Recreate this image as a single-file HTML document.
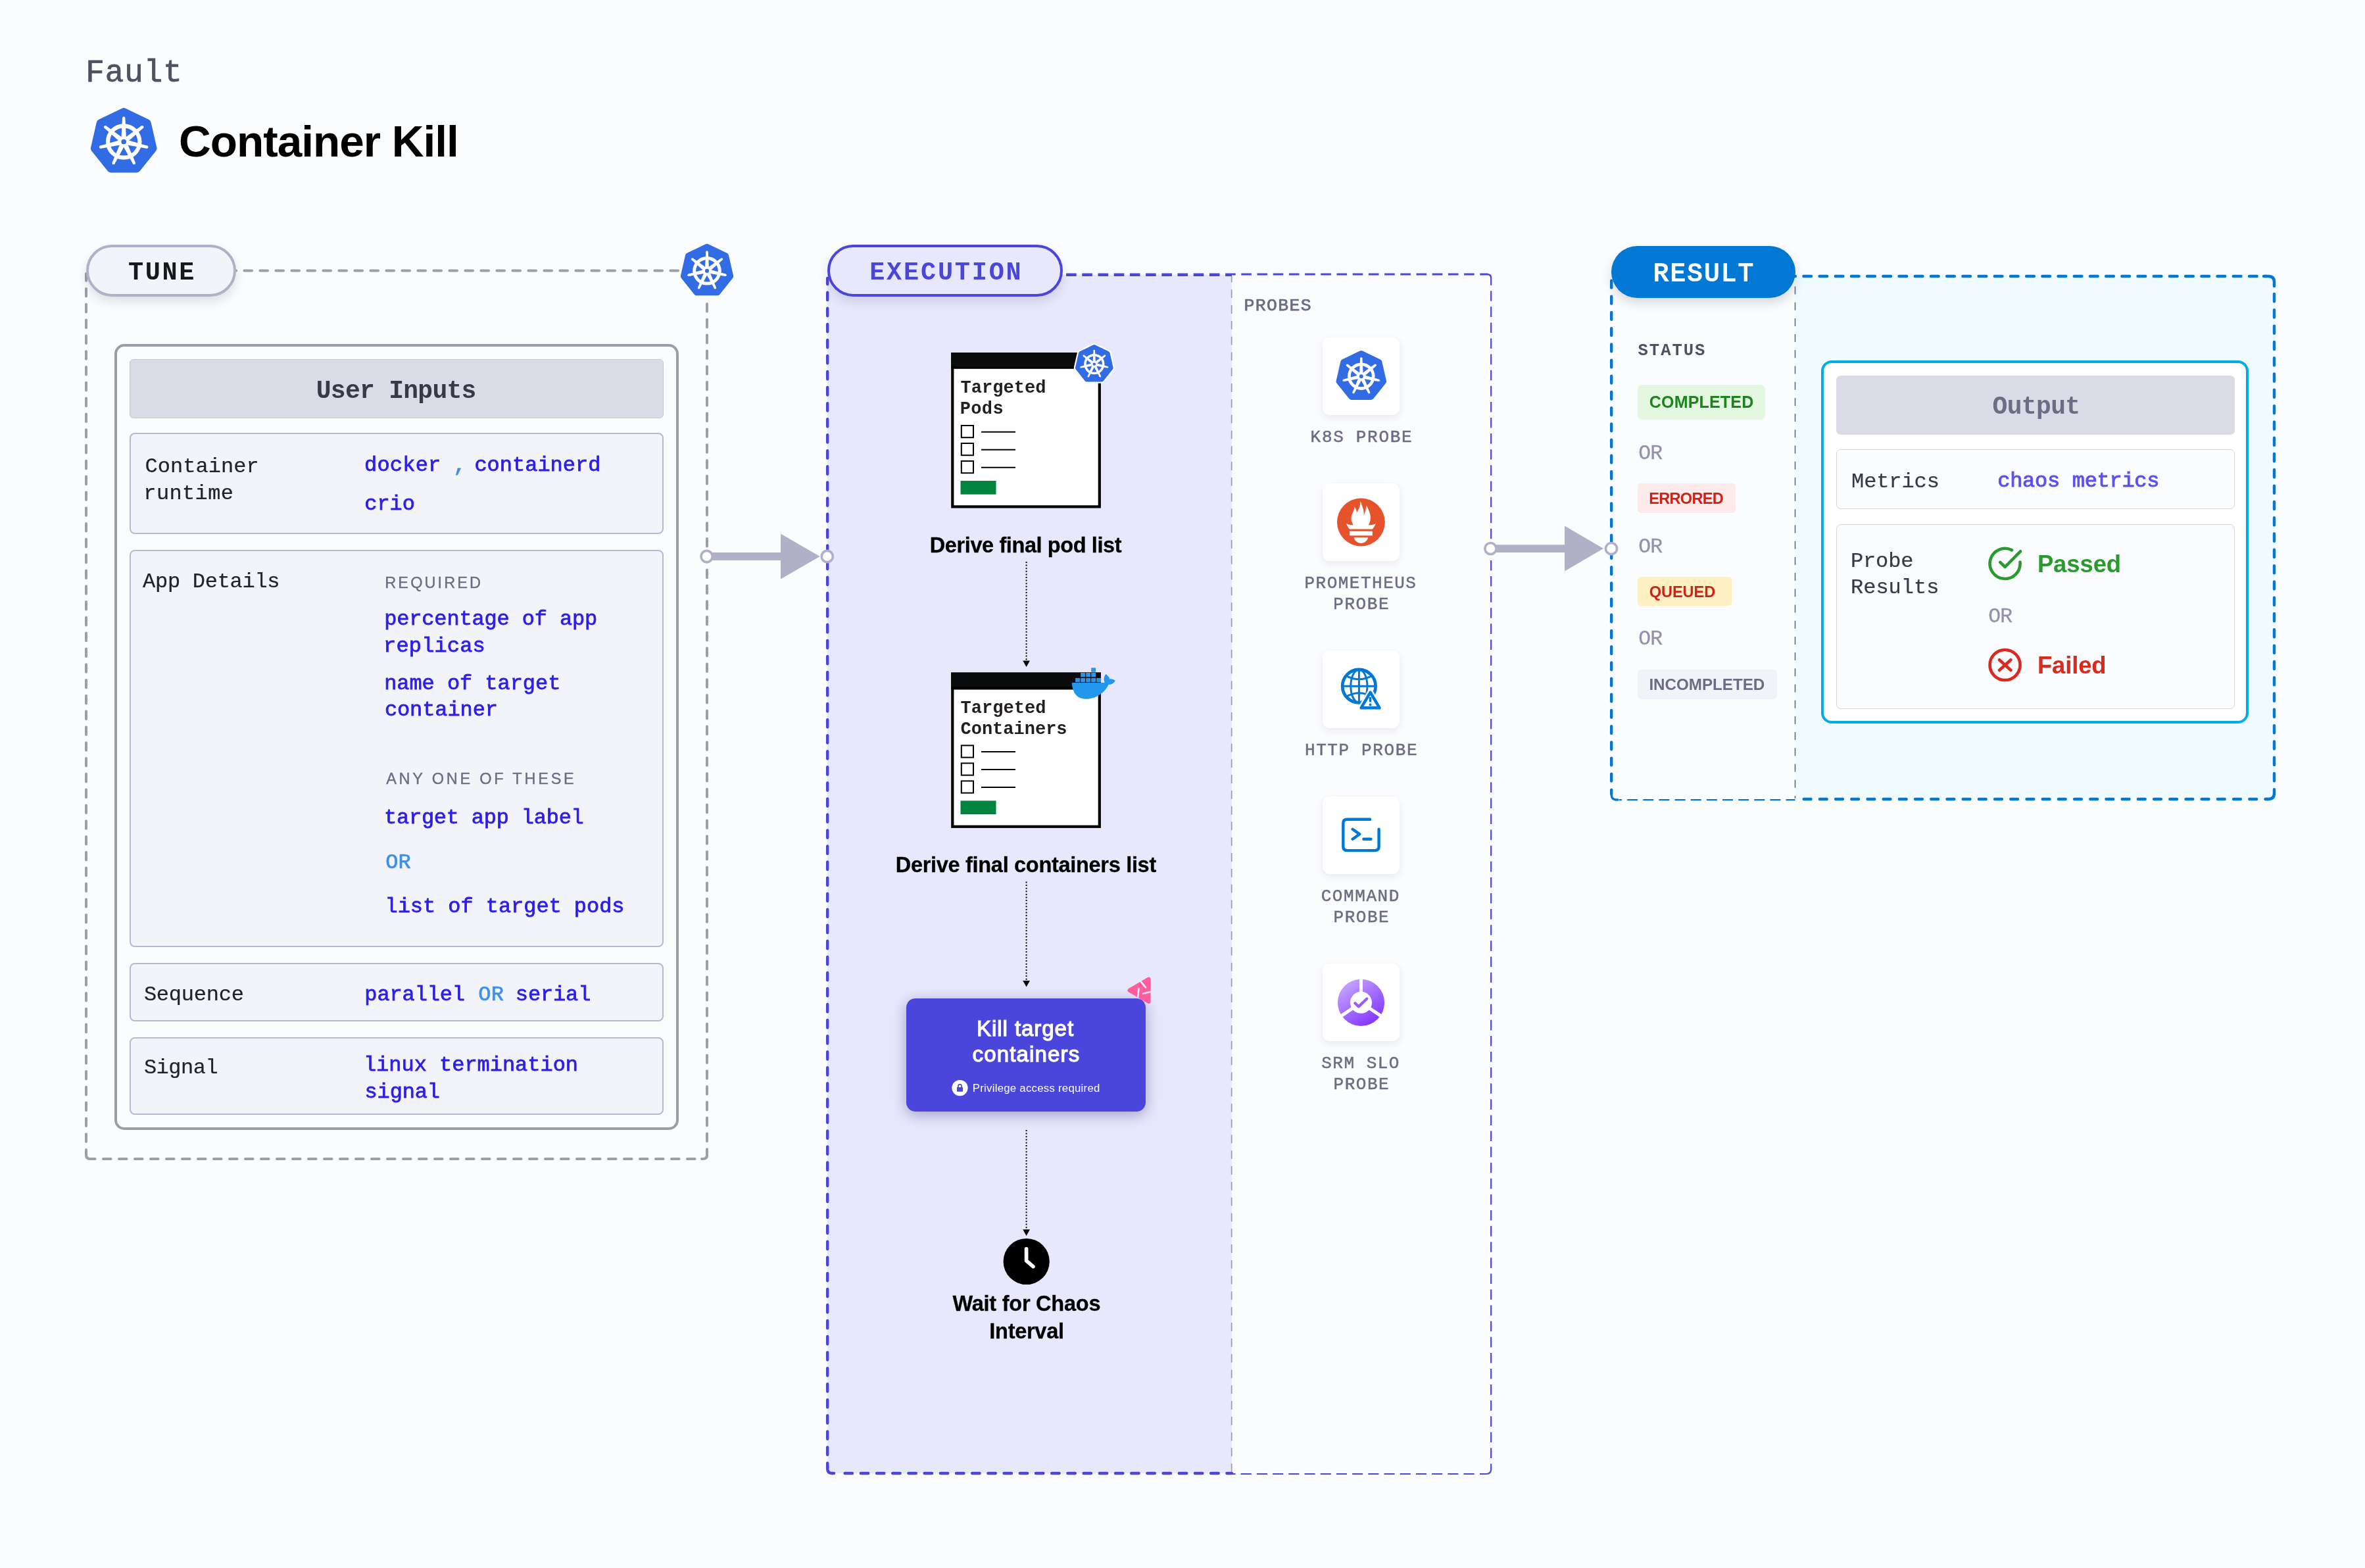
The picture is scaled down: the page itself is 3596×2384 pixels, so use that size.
<!DOCTYPE html>
<html><head><meta charset="utf-8"><title>Container Kill</title>
<style>
html,body{margin:0;padding:0;}
html{width:3596px;height:2384px;background:#fbfcfe;}
body{width:3596px;height:2384px;background:#fbfcfe;position:relative;overflow:hidden;font-family:"Liberation Sans",sans-serif;}
.t{position:absolute;white-space:nowrap;}
.b{position:absolute;}
.tl{position:absolute;left:0;top:0;width:3596px;height:2384px;will-change:opacity;}
.s{font-family:"Liberation Sans",sans-serif;}
.m{font-family:"Liberation Mono",monospace;}
svg{position:absolute;left:0;top:0;}
</style></head><body>
<svg width="3596" height="2384" viewBox="0 0 3596 2384">
<line x1="358" y1="411.6" x2="1036" y2="411.6" stroke="#9aa0a6" stroke-width="4" stroke-dasharray="11.6 12.4" stroke-dashoffset="10.60" stroke-linecap="round"/>
<line x1="131" y1="416" x2="131" y2="1755" stroke="#9aa0a6" stroke-width="4" stroke-dasharray="11.6 12.2" stroke-dashoffset="0.80" stroke-linecap="round"/>
<line x1="139" y1="1762" x2="1068" y2="1762" stroke="#9aa0a6" stroke-width="4" stroke-dasharray="11.6 12.4" stroke-dashoffset="6.00" stroke-linecap="round"/>
<line x1="1075" y1="452" x2="1075" y2="1755" stroke="#9aa0a6" stroke-width="4" stroke-dasharray="11.6 12.2" stroke-dashoffset="13.80" stroke-linecap="round"/>
<path d="M131,1752 V1756 Q131,1762 137,1762 H139" fill="none" stroke="#9aa0a6" stroke-width="4" stroke-linecap="round"/>
<path d="M1075,1752 V1756 Q1075,1762 1069,1762 H1067" fill="none" stroke="#9aa0a6" stroke-width="4" stroke-linecap="round"/>
<rect x="1258" y="417.6" width="615" height="1822.4" fill="#e8e8fd"/>
<line x1="1258.2" y1="423" x2="1258.2" y2="2232" stroke="#4a45db" stroke-width="4.4" stroke-dasharray="11.4 12.65" stroke-dashoffset="2.30" stroke-linecap="round"/>
<path d="M1258.2,2228 V2233 Q1258.2,2240 1265,2240 H1268" fill="none" stroke="#4a45db" stroke-width="4.4" stroke-linecap="round"/>
<line x1="1280" y1="2240" x2="1873" y2="2240" stroke="#4a45db" stroke-width="4.4" stroke-dasharray="11.4 12.8" stroke-dashoffset="19.60" stroke-linecap="round"/>
<line x1="1616" y1="417.7" x2="1873" y2="417.7" stroke="#4a45db" stroke-width="4.4" stroke-dasharray="15.6 8.6" stroke-dashoffset="19.10" stroke-linecap="butt"/>
<line x1="1873" y1="417" x2="2262" y2="417" stroke="#4a45db" stroke-width="2.9" stroke-dasharray="15.6 8.6" stroke-dashoffset="9.90" stroke-linecap="butt"/>
<path d="M2262,417 Q2267.2,417.5 2267.2,423" fill="none" stroke="#4a45db" stroke-width="2.4" stroke-linecap="butt"/>
<line x1="2267.2" y1="423" x2="2267.2" y2="2234" stroke="#4a45db" stroke-width="2.2" stroke-dasharray="15.6 8.5" stroke-dashoffset="4.90" stroke-linecap="butt"/>
<path d="M2267.2,2234 Q2267,2240.8 2260,2241 H2250" fill="none" stroke="#4a45db" stroke-width="2.2" stroke-linecap="butt"/>
<line x1="1873" y1="2241" x2="2248" y2="2241" stroke="#4a45db" stroke-width="2.2" stroke-dasharray="16.1 8.1" stroke-dashoffset="10.50" stroke-linecap="butt"/>
<line x1="1872.7" y1="420" x2="1872.7" y2="2238" stroke="#9a9cae" stroke-width="1.7" stroke-dasharray="12.8 11" stroke-dashoffset="3.50" stroke-linecap="butt"/>
<rect x="2729.5" y="419.7" width="729" height="795.3" fill="#effbff"/>
<line x1="2450.2" y1="424" x2="2450.2" y2="1207" stroke="#0278d5" stroke-width="4.4" stroke-dasharray="10.8 13.4" stroke-dashoffset="21.60" stroke-linecap="round"/>
<path d="M2450.2,1203 V1208 Q2450.2,1215.5 2457,1216 H2460" fill="none" stroke="#0278d5" stroke-width="3.4" stroke-linecap="round"/>
<line x1="2462" y1="1216.1" x2="2729.5" y2="1216.1" stroke="#0278d5" stroke-width="2.2" stroke-dasharray="16 8.15" stroke-dashoffset="12.05" stroke-linecap="butt"/>
<line x1="2735" y1="1215" x2="3448" y2="1215" stroke="#0278d5" stroke-width="4.4" stroke-dasharray="10.8 13.4" stroke-dashoffset="16.50" stroke-linecap="round"/>
<line x1="2729.5" y1="420" x2="3446" y2="420" stroke="#0278d5" stroke-width="4.5" stroke-dasharray="11.6 12.6" stroke-dashoffset="11.30" stroke-linecap="round"/>
<path d="M3442,420 H3449 Q3458,420 3458,429 V435" fill="none" stroke="#0278d5" stroke-width="4.5" stroke-linecap="round"/>
<line x1="3458" y1="440" x2="3458" y2="1203" stroke="#0278d5" stroke-width="4.4" stroke-dasharray="11.2 13.1" stroke-dashoffset="17.30" stroke-linecap="round"/>
<path d="M3458,1203 V1206 Q3458,1215 3449,1215 H3446" fill="none" stroke="#0278d5" stroke-width="4.4" stroke-linecap="round"/>
<line x1="2729.5" y1="424" x2="2729.5" y2="1214" stroke="#666880" stroke-width="1.6" stroke-dasharray="12 12.2" stroke-dashoffset="12.70" stroke-linecap="butt"/>
</svg>
<div class="b" style="left:131.00px;top:372.00px;width:228.00px;height:79.00px;box-sizing:border-box;border:4px solid #b0b1c6;background:#f3f4f9;border-radius:40px;box-shadow:0 8px 16px rgba(40,41,61,.13);"></div>
<div class="b" style="left:174.00px;top:523.00px;width:858.30px;height:1194.80px;box-sizing:border-box;border:4.7px solid #9a9fa6;border-radius:15px;background:#fbfcfe;"></div>
<div class="b" style="left:197.00px;top:545.70px;width:812.00px;height:90.40px;box-sizing:border-box;border:1px solid #c6c5d6;border-radius:6px;background:#dbdbe7;"></div>
<div class="b" style="left:197.00px;top:658.40px;width:811.50px;height:153.40px;box-sizing:border-box;border:2px solid #b9b8ce;border-radius:8px;background:#f3f4f9;"></div>
<div class="b" style="left:197.00px;top:835.70px;width:811.50px;height:604.20px;box-sizing:border-box;border:2px solid #b9b8ce;border-radius:8px;background:#f3f4f9;"></div>
<div class="b" style="left:197.00px;top:1464.40px;width:811.50px;height:89.00px;box-sizing:border-box;border:2px solid #b9b8ce;border-radius:8px;background:#f3f4f9;"></div>
<div class="b" style="left:197.00px;top:1577.40px;width:811.50px;height:117.20px;box-sizing:border-box;border:2px solid #b9b8ce;border-radius:8px;background:#f3f4f9;"></div>
<div class="b" style="left:1258.00px;top:371.60px;width:358.00px;height:79.50px;box-sizing:border-box;border:4px solid #4a45db;background:#e8e8fd;border-radius:40px;box-shadow:0 8px 16px rgba(40,41,61,.13);"></div>
<div class="b" style="left:2010.60px;top:512.80px;width:117.80px;height:118.10px;background:#fff;border-radius:11px;box-shadow:0 4px 12px rgba(40,41,61,.09);"></div>
<div class="b" style="left:2010.60px;top:735.00px;width:117.80px;height:118.10px;background:#fff;border-radius:11px;box-shadow:0 4px 12px rgba(40,41,61,.09);"></div>
<div class="b" style="left:2010.60px;top:988.90px;width:117.80px;height:118.10px;background:#fff;border-radius:11px;box-shadow:0 4px 12px rgba(40,41,61,.09);"></div>
<div class="b" style="left:2010.60px;top:1210.80px;width:117.80px;height:118.10px;background:#fff;border-radius:11px;box-shadow:0 4px 12px rgba(40,41,61,.09);"></div>
<div class="b" style="left:2010.60px;top:1464.70px;width:117.80px;height:118.10px;background:#fff;border-radius:11px;box-shadow:0 4px 12px rgba(40,41,61,.09);"></div>
<div class="b" style="left:1377.70px;top:1518.00px;width:364.70px;height:171.70px;background:#4a46dc;border-radius:14px;box-shadow:0 5px 22px rgba(30,30,110,.36);"></div>
<div class="b" style="left:2450.00px;top:374.00px;width:280.00px;height:78.80px;background:#0278d5;border-radius:40px;box-shadow:0 8px 16px rgba(40,41,61,.16);"></div>
<div class="b" style="left:2490.00px;top:585.20px;width:194.00px;height:52.60px;background:#e4f7e1;border-radius:7px;"></div>
<div class="b" style="left:2490.00px;top:735.00px;width:149.00px;height:45.00px;background:#fdeaea;border-radius:5px;"></div>
<div class="b" style="left:2490.00px;top:877.00px;width:142.70px;height:44.00px;background:#fef0c3;border-radius:5px;"></div>
<div class="b" style="left:2490.00px;top:1018.40px;width:211.80px;height:44.50px;background:#f2f2f9;border-radius:5px;"></div>
<div class="b" style="left:2769.00px;top:547.60px;width:649.90px;height:552.40px;box-sizing:border-box;border:4.5px solid #03ace3;border-radius:16px;background:#fff;"></div>
<div class="b" style="left:2791.70px;top:570.60px;width:606.60px;height:90.50px;background:#dbdbe7;border-radius:7px;"></div>
<div class="b" style="left:2791.70px;top:683.10px;width:606.60px;height:90.80px;box-sizing:border-box;border:1.6px solid #d6d6e3;border-radius:7px;background:#fbfcff;"></div>
<div class="b" style="left:2791.70px;top:796.90px;width:606.60px;height:280.70px;box-sizing:border-box;border:1.6px solid #d6d6e3;border-radius:7px;background:#fbfcff;"></div>
<svg width="3596" height="2384" viewBox="0 0 3596 2384">
<path d="M188.20,170.27 L223.56,187.30 L232.30,225.57 L207.83,256.25 L168.57,256.25 L144.10,225.57 L152.84,187.30Z" fill="#fff" stroke="#fff" stroke-width="19.34" stroke-linejoin="round"/><path d="M188.20,170.27 L223.56,187.30 L232.30,225.57 L207.83,256.25 L168.57,256.25 L144.10,225.57 L152.84,187.30Z" fill="#326ce5" stroke="#326ce5" stroke-width="12.34" stroke-linejoin="round"/><circle cx="188.20" cy="215.50" r="24.16" fill="none" stroke="#fff" stroke-width="6.17"/><path d="M184.34,212.93 L186.02,179.52 L190.38,179.52 L192.05,212.93Z" fill="#fff"/><circle cx="188.20" cy="179.52" r="2.18" fill="#fff"/><path d="M187.81,210.88 L214.97,191.36 L217.69,194.77 L192.61,216.91Z" fill="#fff"/><circle cx="216.33" cy="193.07" r="2.18" fill="#fff"/><path d="M191.56,212.31 L223.76,221.38 L222.79,225.64 L189.85,219.83Z" fill="#fff"/><circle cx="223.28" cy="223.51" r="2.18" fill="#fff"/><path d="M192.79,216.14 L205.78,246.97 L201.84,248.86 L185.84,219.49Z" fill="#fff"/><circle cx="203.81" cy="247.92" r="2.18" fill="#fff"/><path d="M190.56,219.49 L174.56,248.86 L170.62,246.97 L183.61,216.14Z" fill="#fff"/><circle cx="172.59" cy="247.92" r="2.18" fill="#fff"/><path d="M186.55,219.83 L153.61,225.64 L152.64,221.38 L184.84,212.31Z" fill="#fff"/><circle cx="153.12" cy="223.51" r="2.18" fill="#fff"/><path d="M183.79,216.91 L158.71,194.77 L161.43,191.36 L188.59,210.88Z" fill="#fff"/><circle cx="160.07" cy="193.07" r="2.18" fill="#fff"/><circle cx="188.20" cy="215.50" r="7.71" fill="#fff"/><circle cx="188.20" cy="215.50" r="3.85" fill="#326ce5"/>
<path d="M1075.00,375.72 L1103.21,389.30 L1110.18,419.83 L1090.65,444.31 L1059.35,444.31 L1039.82,419.83 L1046.79,389.30Z" fill="#326ce5" stroke="#326ce5" stroke-width="9.84" stroke-linejoin="round"/><circle cx="1075.00" cy="411.80" r="19.27" fill="none" stroke="#fff" stroke-width="4.92"/><path d="M1071.92,409.75 L1073.26,383.10 L1076.74,383.10 L1078.08,409.75Z" fill="#fff"/><circle cx="1075.00" cy="383.10" r="1.74" fill="#fff"/><path d="M1074.69,408.12 L1096.35,392.54 L1098.52,395.27 L1078.52,412.93Z" fill="#fff"/><circle cx="1097.44" cy="393.91" r="1.74" fill="#fff"/><path d="M1077.68,409.26 L1103.37,416.49 L1102.59,419.89 L1076.31,415.25Z" fill="#fff"/><circle cx="1102.98" cy="418.19" r="1.74" fill="#fff"/><path d="M1078.66,412.31 L1089.02,436.90 L1085.88,438.41 L1073.12,414.98Z" fill="#fff"/><circle cx="1087.45" cy="437.66" r="1.74" fill="#fff"/><path d="M1076.88,414.98 L1064.12,438.41 L1060.98,436.90 L1071.34,412.31Z" fill="#fff"/><circle cx="1062.55" cy="437.66" r="1.74" fill="#fff"/><path d="M1073.69,415.25 L1047.41,419.89 L1046.63,416.49 L1072.32,409.26Z" fill="#fff"/><circle cx="1047.02" cy="418.19" r="1.74" fill="#fff"/><path d="M1071.48,412.93 L1051.48,395.27 L1053.65,392.54 L1075.31,408.12Z" fill="#fff"/><circle cx="1052.56" cy="393.91" r="1.74" fill="#fff"/><circle cx="1075.00" cy="411.80" r="6.15" fill="#fff"/><circle cx="1075.00" cy="411.80" r="3.07" fill="#326ce5"/>
<path d="M2069.80,537.79 L2096.70,550.75 L2103.35,579.86 L2084.73,603.20 L2054.87,603.20 L2036.25,579.86 L2042.90,550.75Z" fill="#326ce5" stroke="#326ce5" stroke-width="9.38" stroke-linejoin="round"/><circle cx="2069.80" cy="572.20" r="18.38" fill="none" stroke="#fff" stroke-width="4.69"/><path d="M2066.87,570.25 L2068.14,544.83 L2071.46,544.83 L2072.73,570.25Z" fill="#fff"/><circle cx="2069.80" cy="544.83" r="1.66" fill="#fff"/><path d="M2069.50,568.69 L2090.16,553.84 L2092.23,556.43 L2073.16,573.27Z" fill="#fff"/><circle cx="2091.20" cy="555.14" r="1.66" fill="#fff"/><path d="M2072.36,569.78 L2096.85,576.67 L2096.11,579.91 L2071.05,575.49Z" fill="#fff"/><circle cx="2096.48" cy="578.29" r="1.66" fill="#fff"/><path d="M2073.29,572.69 L2083.17,596.14 L2080.18,597.58 L2068.01,575.23Z" fill="#fff"/><circle cx="2081.68" cy="596.86" r="1.66" fill="#fff"/><path d="M2071.59,575.23 L2059.42,597.58 L2056.43,596.14 L2066.31,572.69Z" fill="#fff"/><circle cx="2057.92" cy="596.86" r="1.66" fill="#fff"/><path d="M2068.55,575.49 L2043.49,579.91 L2042.75,576.67 L2067.24,569.78Z" fill="#fff"/><circle cx="2043.12" cy="578.29" r="1.66" fill="#fff"/><path d="M2066.44,573.27 L2047.37,556.43 L2049.44,553.84 L2070.10,568.69Z" fill="#fff"/><circle cx="2048.40" cy="555.14" r="1.66" fill="#fff"/><circle cx="2069.80" cy="572.20" r="5.87" fill="#fff"/><circle cx="2069.80" cy="572.20" r="2.93" fill="#326ce5"/>
<circle cx="2069.4" cy="794" r="36.4" fill="#e6522c"/><path fill="#fff" d="M2068.70,762.10 C2070.90,770.00 2074.40,774.00 2073.60,783.50 C2075.90,779.00 2076.90,774.00 2077.50,768.00 C2081.40,775.00 2084.90,784.00 2083.80,789.00 C2083.40,793.00 2081.90,796.50 2080.90,798.20 C2084.90,798.50 2088.90,797.50 2091.80,796.20 C2090.40,799.50 2088.90,802.00 2086.90,804.60 L2052.00,804.60 C2049.90,802.00 2048.40,799.50 2047.10,796.20 C2049.90,797.50 2053.90,798.50 2057.90,798.20 C2055.90,795.00 2053.90,791.00 2054.80,786.50 C2055.40,781.00 2058.90,777.00 2059.60,770.80 C2061.90,774.00 2063.10,776.50 2062.90,779.50 C2065.90,775.50 2068.20,769.50 2068.70,762.10Z"/><rect x="2052.20" y="807.70" width="34.60" height="6.60" fill="#fff"/><path fill="#fff" d="M2058.60,817.10 L2080.30,817.10 C2078.90,822.50 2074.40,826.00 2069.40,826.00 C2064.40,826.00 2059.90,822.50 2058.60,817.10Z"/>
<g fill="none" stroke="#0278d5"><circle cx="2066.4" cy="1043.2" r="25.2" stroke-width="4.8"/><ellipse cx="2066.4" cy="1043.2" rx="12.60" ry="25.2" stroke-width="3"/><line x1="2066.4" y1="1018.0" x2="2066.4" y2="1068.4" stroke-width="3"/><line x1="2041.2" y1="1043.2" x2="2091.6" y2="1043.2" stroke-width="3"/><path d="M2046.74,1027.32 Q2066.4,1038.16 2086.06,1027.32" stroke-width="3"/><path d="M2046.74,1059.08 Q2066.4,1048.24 2086.06,1059.08" stroke-width="3"/></g><path d="M2083.6,1052.6 L2097.6,1076.3 L2069.6,1076.3Z" fill="#fff" stroke="#fff" stroke-width="9" stroke-linejoin="round"/><path d="M2083.6,1052.6 L2097.6,1076.3 L2069.6,1076.3Z" fill="#fff" stroke="#0278d5" stroke-width="4.4" stroke-linejoin="round"/><line x1="2083.5" y1="1060" x2="2083.5" y2="1067.4" stroke="#0278d5" stroke-width="3.4" stroke-linecap="butt"/><circle cx="2083.5" cy="1071.4" r="2" fill="#0278d5"/>
<g fill="none" stroke="#0278d5" stroke-width="4.4" stroke-linecap="round" stroke-linejoin="round"><path d="M2083.1,1245.7 H2048.3 Q2042.3,1245.7 2042.3,1251.7 V1287.1 Q2042.3,1293.1 2048.3,1293.1 H2090.6 Q2096.6,1293.1 2096.6,1287.1 V1260.7"/><path d="M2056.7,1260.7 L2067.3,1268.2 L2056.7,1275.8"/><path d="M2073.4,1275.8 H2084.4"/></g>
<defs><linearGradient id="srmg" x1="0.15" y1="0.05" x2="0.8" y2="0.95"><stop offset="0" stop-color="#c6a8ff"/><stop offset="1" stop-color="#8233ff"/></linearGradient></defs><circle cx="2069.5" cy="1524.3" r="35.6" fill="url(#srmg)"/><line x1="2069.5" y1="1524.3" x2="2069.50" y2="1486.70" stroke="#fff" stroke-width="5"/><line x1="2069.5" y1="1524.3" x2="2100.67" y2="1545.33" stroke="#fff" stroke-width="5"/><line x1="2069.5" y1="1524.3" x2="2038.33" y2="1545.33" stroke="#fff" stroke-width="5"/><circle cx="2069.5" cy="1524.3" r="16.5" fill="#fff"/><path d="M2060.4,1525.3 L2065.8,1530.4 L2078.3,1518.5" fill="none" stroke="#9a5cff" stroke-width="4.2" stroke-linecap="round" stroke-linejoin="round"/>
<rect x="1448.3" y="538.20" width="223.5" height="232.2" fill="#fff" stroke="#000" stroke-width="4.2"/><rect x="1446.2" y="536.10" width="227.7" height="20.7" fill="#0a0c0c"/><rect x="1446.2" y="556.30" width="227.7" height="4.5" fill="#000"/><rect x="1461.8" y="647.00" width="18.2" height="18.2" fill="#fff" stroke="#000" stroke-width="2"/><line x1="1492" y1="656.70" x2="1544" y2="656.70" stroke="#000" stroke-width="2"/><rect x="1461.8" y="674.00" width="18.2" height="18.2" fill="#fff" stroke="#000" stroke-width="2"/><line x1="1492" y1="683.70" x2="1544" y2="683.70" stroke="#000" stroke-width="2"/><rect x="1461.8" y="701.00" width="18.2" height="18.2" fill="#fff" stroke="#000" stroke-width="2"/><line x1="1492" y1="710.70" x2="1544" y2="710.70" stroke="#000" stroke-width="2"/><rect x="1460.5" y="731.00" width="54" height="20.7" fill="#00843f"/>
<path d="M1663.80,527.64 L1684.10,537.41 L1689.11,559.38 L1675.06,576.99 L1652.54,576.99 L1638.49,559.38 L1643.50,537.41Z" fill="#fff" stroke="#fff" stroke-width="11.48" stroke-linejoin="round"/><path d="M1663.80,527.64 L1684.10,537.41 L1689.11,559.38 L1675.06,576.99 L1652.54,576.99 L1638.49,559.38 L1643.50,537.41Z" fill="#326ce5" stroke="#326ce5" stroke-width="7.08" stroke-linejoin="round"/><circle cx="1663.80" cy="553.60" r="13.86" fill="none" stroke="#fff" stroke-width="3.54"/><path d="M1661.59,552.12 L1662.55,532.95 L1665.05,532.95 L1666.01,552.12Z" fill="#fff"/><circle cx="1663.80" cy="532.95" r="1.25" fill="#fff"/><path d="M1663.57,550.95 L1679.16,539.74 L1680.73,541.71 L1666.33,554.41Z" fill="#fff"/><circle cx="1679.94" cy="540.72" r="1.25" fill="#fff"/><path d="M1665.73,551.77 L1684.21,556.97 L1683.65,559.42 L1664.75,556.09Z" fill="#fff"/><circle cx="1683.93" cy="558.20" r="1.25" fill="#fff"/><path d="M1666.43,553.97 L1673.89,571.66 L1671.63,572.75 L1662.45,555.89Z" fill="#fff"/><circle cx="1672.76" cy="572.21" r="1.25" fill="#fff"/><path d="M1665.15,555.89 L1655.97,572.75 L1653.71,571.66 L1661.17,553.97Z" fill="#fff"/><circle cx="1654.84" cy="572.21" r="1.25" fill="#fff"/><path d="M1662.85,556.09 L1643.95,559.42 L1643.39,556.97 L1661.87,551.77Z" fill="#fff"/><circle cx="1643.67" cy="558.20" r="1.25" fill="#fff"/><path d="M1661.27,554.41 L1646.87,541.71 L1648.44,539.74 L1664.03,550.95Z" fill="#fff"/><circle cx="1647.66" cy="540.72" r="1.25" fill="#fff"/><circle cx="1663.80" cy="553.60" r="4.42" fill="#fff"/><circle cx="1663.80" cy="553.60" r="2.21" fill="#326ce5"/>
<rect x="1448.3" y="1024.60" width="223.5" height="232.2" fill="#fff" stroke="#000" stroke-width="4.2"/><rect x="1446.2" y="1022.50" width="227.7" height="22" fill="#0a0c0c"/><rect x="1446.2" y="1044.00" width="227.7" height="4.5" fill="#000"/><rect x="1461.8" y="1133.40" width="18.2" height="18.2" fill="#fff" stroke="#000" stroke-width="2"/><line x1="1492" y1="1143.10" x2="1544" y2="1143.10" stroke="#000" stroke-width="2"/><rect x="1461.8" y="1160.40" width="18.2" height="18.2" fill="#fff" stroke="#000" stroke-width="2"/><line x1="1492" y1="1170.10" x2="1544" y2="1170.10" stroke="#000" stroke-width="2"/><rect x="1461.8" y="1187.40" width="18.2" height="18.2" fill="#fff" stroke="#000" stroke-width="2"/><line x1="1492" y1="1197.10" x2="1544" y2="1197.10" stroke="#000" stroke-width="2"/><rect x="1460.5" y="1217.40" width="54" height="20.7" fill="#00843f"/>
<path fill="#2396ed" d="M1629.8,1038 L1679.6,1038 C1679,1035.5 1678.2,1033.5 1678.6,1031.6 C1678.8,1029 1680,1026.5 1681.4,1025 C1684.5,1027 1686.8,1029.6 1687.2,1032.4 C1690,1031.8 1693.5,1032.8 1695.9,1034.7 C1694,1038.5 1690,1041 1685.5,1040.8 C1683,1047 1678,1052.5 1672.4,1056 C1666,1060.5 1658,1062.8 1652,1062.8 C1641,1062.8 1634.5,1057 1632.7,1051 C1630.5,1046.5 1629.8,1042 1629.8,1038Z"/><rect x="1635.1" y="1030.9" width="6.9" height="6.2" fill="#2396ed"/><rect x="1643.1" y="1030.9" width="6.9" height="6.2" fill="#2396ed"/><rect x="1651.2" y="1030.9" width="6.9" height="6.2" fill="#2396ed"/><rect x="1659.2" y="1030.9" width="6.9" height="6.2" fill="#2396ed"/><rect x="1667.2" y="1030.9" width="6.9" height="6.2" fill="#2396ed"/><rect x="1643.1" y="1023" width="6.9" height="6.3" fill="#2396ed"/><rect x="1651.2" y="1023" width="6.9" height="6.3" fill="#2396ed"/><rect x="1659.2" y="1023" width="6.9" height="6.3" fill="#2396ed"/><rect x="1659.2" y="1015.3" width="6.9" height="6.4" fill="#2396ed"/>
<line x1="1560.6" y1="854" x2="1560.6" y2="1005" stroke="#000" stroke-width="2" stroke-dasharray="2 2.6"/><path d="M1555.1999999999998,1004.4 L1566.0,1004.4 L1560.6,1014Z" fill="#0a0c0c"/>
<line x1="1560.6" y1="1340.5" x2="1560.6" y2="1491.5" stroke="#000" stroke-width="2" stroke-dasharray="2 2.6"/><path d="M1555.1999999999998,1490.9 L1566.0,1490.9 L1560.6,1500.5Z" fill="#0a0c0c"/>
<line x1="1560.6" y1="1718" x2="1560.6" y2="1869.9" stroke="#000" stroke-width="2" stroke-dasharray="2 2.6"/><path d="M1555.1999999999998,1869.3000000000002 L1566.0,1869.3000000000002 L1560.6,1878.9Z" fill="#0a0c0c"/>
<circle cx="1459.5" cy="1654.1" r="12.1" fill="#fff"/><rect x="1454.9" y="1653" width="9.2" height="6.8" rx="0.8" fill="#4a46dc"/><path d="M1457,1653.4 V1651.3 a2.5,2.6 0 0 1 5,0 V1653.4" fill="none" stroke="#4a46dc" stroke-width="1.7"/>
<path d="M1717.5,1505.7 L1746.6,1488.6 L1746.6,1522.9Z" fill="#ff5c9e" stroke="#ff5c9e" stroke-width="6" stroke-linejoin="round"/><g stroke="#e8e8fd" stroke-width="2.6" stroke-linecap="round"><line x1="1733.7" y1="1491.2" x2="1742" y2="1501.3"/><line x1="1730.2" y1="1516.4" x2="1731.5" y2="1503"/><line x1="1750.4" y1="1507.8" x2="1738" y2="1510.8"/></g>
<circle cx="1560.7" cy="1918" r="35.1" fill="#000"/><path d="M1560.6,1898.9 V1916.8 L1570.9,1925.7" fill="none" stroke="#fff" stroke-width="5.7" stroke-linecap="round" stroke-linejoin="round"/>
<line x1="1074.6" y1="846" x2="1189.0" y2="846" stroke="#b0b1c6" stroke-width="11.8"/><path d="M1187.0,811.5 L1246.6,846 L1187.0,880.5Z" fill="#b0b1c6"/><circle cx="1074.6" cy="846" r="8.6" fill="#fff" stroke="#b0b1c6" stroke-width="3.7"/><circle cx="1257.8" cy="846" r="8.6" fill="#fff" stroke="#b0b1c6" stroke-width="3.7"/>
<line x1="2266.4" y1="834.1" x2="2381" y2="834.1" stroke="#b0b1c6" stroke-width="11.8"/><path d="M2379,799.6 L2438,834.1 L2379,868.6Z" fill="#b0b1c6"/><circle cx="2266.4" cy="834.1" r="8.6" fill="#fff" stroke="#b0b1c6" stroke-width="3.7"/><circle cx="2450" cy="834.1" r="8.6" fill="#fff" stroke="#b0b1c6" stroke-width="3.7"/>
<g fill="none" stroke="#299b2c" stroke-width="4.6" stroke-linecap="round" stroke-linejoin="round"><path d="M3071.5,854.6 A23,23 0 1 1 3059,836.4"/><path d="M3041.3,854.9 L3048.7,862 L3072,838.3"/></g>
<g fill="none" stroke="#da291d" stroke-width="4.6" stroke-linecap="round"><circle cx="3048.6" cy="1011" r="23"/><path d="M3040.1,1003.2 L3057.4,1019 M3057.4,1003.2 L3040.1,1019"/></g>
</svg>
<div class="tl">
<div class="t m" style="left:130.13px;top:80.00px;font-size:47.5px;font-weight:400;color:#4f5162;line-height:62px;letter-spacing:1.002px;-webkit-text-stroke:0.8px #4f5162;">Fault</div>
<div class="t s" style="left:271.90px;top:170.00px;font-size:67.5px;font-weight:700;color:#000;line-height:89px;letter-spacing:-0.987px;">Container Kill</div>
<div class="t m" style="left:194.92px;top:390.00px;font-size:38.5px;font-weight:700;color:#16191b;line-height:50px;letter-spacing:2.639px;">TUNE</div>
<div class="t m" style="left:480.74px;top:570.00px;font-size:38px;font-weight:700;color:#383946;line-height:49px;letter-spacing:-0.716px;">User Inputs</div>
<div class="t m" style="left:220.38px;top:688.00px;font-size:32px;font-weight:400;color:#22222a;line-height:43px;letter-spacing:0.066px;-webkit-text-stroke:0.22px #22222a;">Container</div>
<div class="t m" style="left:218.33px;top:729.00px;font-size:32px;font-weight:400;color:#22222a;line-height:43px;letter-spacing:0.367px;-webkit-text-stroke:0.22px #22222a;">runtime</div>
<div class="t m" style="left:554.09px;top:686.00px;font-size:32px;font-weight:400;color:#2c1ee8;line-height:43px;letter-spacing:0.186px;-webkit-text-stroke:0.8px #2c1ee8;">docker</div>
<div class="t m" style="left:689.44px;top:686.00px;font-size:32px;font-weight:400;color:#3d8ff0;line-height:43px;-webkit-text-stroke:0.95px #3d8ff0;">,</div>
<div class="t m" style="left:721.42px;top:686.00px;font-size:32px;font-weight:400;color:#2c1ee8;line-height:43px;letter-spacing:-0.007px;-webkit-text-stroke:0.8px #2c1ee8;">containerd</div>
<div class="t m" style="left:554.22px;top:745.00px;font-size:32px;font-weight:400;color:#2c1ee8;line-height:43px;letter-spacing:-0.023px;-webkit-text-stroke:0.8px #2c1ee8;">crio</div>
<div class="t m" style="left:217.11px;top:863.00px;font-size:32px;font-weight:400;color:#22222a;line-height:43px;letter-spacing:-0.280px;-webkit-text-stroke:0.22px #22222a;">App Details</div>
<div class="t s" style="left:585.27px;top:870.00px;font-size:23.5px;font-weight:400;color:#6b6d85;line-height:32px;letter-spacing:3.111px;-webkit-text-stroke:0.4px #6b6d85;">REQUIRED</div>
<div class="t m" style="left:584.15px;top:920.00px;font-size:32px;font-weight:400;color:#2c1ee8;line-height:43px;letter-spacing:-0.150px;-webkit-text-stroke:0.8px #2c1ee8;">percentage of app</div>
<div class="t m" style="left:583.12px;top:961.00px;font-size:32px;font-weight:400;color:#2c1ee8;line-height:43px;letter-spacing:0.143px;-webkit-text-stroke:0.8px #2c1ee8;">replicas</div>
<div class="t m" style="left:584.15px;top:1018.00px;font-size:32px;font-weight:400;color:#2c1ee8;line-height:43px;letter-spacing:-0.050px;-webkit-text-stroke:0.8px #2c1ee8;">name of target</div>
<div class="t m" style="left:584.92px;top:1058.00px;font-size:32px;font-weight:400;color:#2c1ee8;line-height:43px;letter-spacing:-0.100px;-webkit-text-stroke:0.8px #2c1ee8;">container</div>
<div class="t s" style="left:587.15px;top:1168.00px;font-size:23.5px;font-weight:400;color:#6b6d85;line-height:32px;letter-spacing:3.777px;-webkit-text-stroke:0.4px #6b6d85;">ANY ONE OF THESE</div>
<div class="t m" style="left:583.96px;top:1222.00px;font-size:32px;font-weight:400;color:#2c1ee8;line-height:43px;letter-spacing:-0.226px;-webkit-text-stroke:0.8px #2c1ee8;">target app label</div>
<div class="t m" style="left:586.21px;top:1290.00px;font-size:32px;font-weight:400;color:#3d8ff0;line-height:43px;letter-spacing:0.204px;-webkit-text-stroke:0.7px #3d8ff0;">OR</div>
<div class="t m" style="left:585.54px;top:1357.00px;font-size:32px;font-weight:400;color:#2c1ee8;line-height:43px;letter-spacing:-0.049px;-webkit-text-stroke:0.8px #2c1ee8;">list of target pods</div>
<div class="t m" style="left:218.89px;top:1491.00px;font-size:32px;font-weight:400;color:#22222a;line-height:43px;letter-spacing:-0.222px;-webkit-text-stroke:0.22px #22222a;">Sequence</div>
<div class="t m" style="left:554.35px;top:1491.00px;font-size:32px;font-weight:400;color:#2c1ee8;line-height:43px;letter-spacing:-0.131px;-webkit-text-stroke:0.8px #2c1ee8;">parallel</div>
<div class="t m" style="left:727.31px;top:1491.00px;font-size:32px;font-weight:400;color:#3d8ff0;line-height:43px;letter-spacing:0.204px;-webkit-text-stroke:0.7px #3d8ff0;">OR</div>
<div class="t m" style="left:783.84px;top:1491.00px;font-size:32px;font-weight:400;color:#2c1ee8;line-height:43px;letter-spacing:-0.142px;-webkit-text-stroke:0.8px #2c1ee8;">serial</div>
<div class="t m" style="left:218.89px;top:1602.00px;font-size:32px;font-weight:400;color:#22222a;line-height:43px;letter-spacing:-0.495px;-webkit-text-stroke:0.22px #22222a;">Signal</div>
<div class="t m" style="left:552.94px;top:1598.00px;font-size:32px;font-weight:400;color:#2c1ee8;line-height:43px;letter-spacing:-0.022px;-webkit-text-stroke:0.8px #2c1ee8;">linux termination</div>
<div class="t m" style="left:554.54px;top:1639.00px;font-size:32px;font-weight:400;color:#2c1ee8;line-height:43px;letter-spacing:-0.142px;-webkit-text-stroke:0.8px #2c1ee8;">signal</div>
<div class="t m" style="left:1322.16px;top:390.00px;font-size:38.5px;font-weight:700;color:#4a45db;line-height:50px;letter-spacing:2.826px;">EXECUTION</div>
<div class="t m" style="left:1891.51px;top:448.00px;font-size:26.5px;font-weight:400;color:#6b6d85;line-height:34px;letter-spacing:1.358px;-webkit-text-stroke:0.75px #6b6d85;">PROBES</div>
<div class="t m" style="left:1992.62px;top:648.00px;font-size:26px;font-weight:400;color:#6b6d85;line-height:34px;letter-spacing:1.698px;-webkit-text-stroke:0.5px #6b6d85;">K8S PROBE</div>
<div class="t m" style="left:1983.52px;top:870.00px;font-size:26px;font-weight:400;color:#6b6d85;line-height:34px;letter-spacing:1.486px;-webkit-text-stroke:0.5px #6b6d85;">PROMETHEUS</div>
<div class="t m" style="left:2027.22px;top:902.00px;font-size:26px;font-weight:400;color:#6b6d85;line-height:34px;letter-spacing:1.595px;-webkit-text-stroke:0.5px #6b6d85;">PROBE</div>
<div class="t m" style="left:1983.92px;top:1124.00px;font-size:26px;font-weight:400;color:#6b6d85;line-height:34px;letter-spacing:1.631px;-webkit-text-stroke:0.5px #6b6d85;">HTTP PROBE</div>
<div class="t m" style="left:2008.65px;top:1346.00px;font-size:26px;font-weight:400;color:#6b6d85;line-height:34px;letter-spacing:1.584px;-webkit-text-stroke:0.5px #6b6d85;">COMMAND</div>
<div class="t m" style="left:2027.62px;top:1378.00px;font-size:26px;font-weight:400;color:#6b6d85;line-height:34px;letter-spacing:1.520px;-webkit-text-stroke:0.5px #6b6d85;">PROBE</div>
<div class="t m" style="left:2009.26px;top:1600.00px;font-size:26px;font-weight:400;color:#6b6d85;line-height:34px;letter-spacing:1.498px;-webkit-text-stroke:0.5px #6b6d85;">SRM SLO</div>
<div class="t m" style="left:2027.62px;top:1632.00px;font-size:26px;font-weight:400;color:#6b6d85;line-height:34px;letter-spacing:1.520px;-webkit-text-stroke:0.5px #6b6d85;">PROBE</div>
<div class="t m" style="left:1460.54px;top:572.00px;font-size:27px;font-weight:700;color:#231f20;line-height:36px;letter-spacing:0.027px;">Targeted</div>
<div class="t m" style="left:1459.72px;top:604.00px;font-size:27px;font-weight:700;color:#231f20;line-height:36px;letter-spacing:0.367px;">Pods</div>
<div class="t m" style="left:1460.54px;top:1059.00px;font-size:27px;font-weight:700;color:#231f20;line-height:36px;letter-spacing:0.027px;">Targeted</div>
<div class="t m" style="left:1460.47px;top:1091.00px;font-size:27px;font-weight:700;color:#231f20;line-height:36px;letter-spacing:0.005px;">Containers</div>
<div class="t s" style="left:1413.81px;top:808.00px;font-size:32.5px;font-weight:700;color:#000;line-height:42px;letter-spacing:-0.400px;-webkit-text-stroke:0.3px #000;">Derive final pod list</div>
<div class="t s" style="left:1361.81px;top:1294.00px;font-size:32.5px;font-weight:700;color:#000;line-height:42px;letter-spacing:-0.303px;-webkit-text-stroke:0.3px #000;">Derive final containers list</div>
<div class="t s" style="left:1448.45px;top:1961.00px;font-size:32.5px;font-weight:700;color:#000;line-height:42px;letter-spacing:-0.237px;-webkit-text-stroke:0.3px #000;">Wait for Chaos</div>
<div class="t s" style="left:1504.31px;top:2003.00px;font-size:32.5px;font-weight:700;color:#000;line-height:42px;letter-spacing:-0.274px;-webkit-text-stroke:0.3px #000;">Interval</div>
<div class="t s" style="left:1484.92px;top:1542.00px;font-size:33px;font-weight:400;color:#fff;line-height:43px;letter-spacing:0.961px;-webkit-text-stroke:1.25px #fff;">Kill target</div>
<div class="t s" style="left:1478.54px;top:1581.00px;font-size:33px;font-weight:400;color:#fff;line-height:43px;letter-spacing:1.162px;-webkit-text-stroke:1.25px #fff;">containers</div>
<div class="t s" style="left:1478.82px;top:1643.00px;font-size:16.8px;font-weight:400;color:#fff;line-height:23px;letter-spacing:0.253px;">Privilege access required</div>
<div class="t m" style="left:2514.03px;top:392.00px;font-size:38.7px;font-weight:400;color:#fff;line-height:50px;letter-spacing:2.538px;-webkit-text-stroke:1.7px #fff;">RESULT</div>
<div class="t m" style="left:2490.54px;top:517.00px;font-size:25.6px;font-weight:700;color:#4f5162;line-height:33px;letter-spacing:1.954px;">STATUS</div>
<div class="t s" style="left:2507.80px;top:595.00px;font-size:25px;font-weight:700;color:#1b841d;line-height:32px;letter-spacing:0.181px;">COMPLETED</div>
<div class="t s" style="left:2507.24px;top:742.00px;font-size:23.6px;font-weight:700;color:#cf2318;line-height:32px;letter-spacing:-0.750px;">ERRORED</div>
<div class="t s" style="left:2507.76px;top:884.00px;font-size:23.6px;font-weight:700;color:#cf2318;line-height:32px;letter-spacing:-0.095px;">QUEUED</div>
<div class="t s" style="left:2507.40px;top:1025.00px;font-size:24.2px;font-weight:700;color:#6b6d85;line-height:31px;letter-spacing:-0.016px;">INCOMPLETED</div>
<div class="t m" style="left:2491.14px;top:669.00px;font-size:31.5px;font-weight:400;color:#9293ab;line-height:41px;letter-spacing:-0.832px;-webkit-text-stroke:0.3px #9293ab;">OR</div>
<div class="t m" style="left:2491.14px;top:811.00px;font-size:31.5px;font-weight:400;color:#9293ab;line-height:41px;letter-spacing:-0.832px;-webkit-text-stroke:0.3px #9293ab;">OR</div>
<div class="t m" style="left:2491.14px;top:951.00px;font-size:31.5px;font-weight:400;color:#9293ab;line-height:41px;letter-spacing:-0.832px;-webkit-text-stroke:0.3px #9293ab;">OR</div>
<div class="t m" style="left:3029.56px;top:594.00px;font-size:38px;font-weight:700;color:#6b6d85;line-height:49px;letter-spacing:-0.647px;">Output</div>
<div class="t m" style="left:2815.03px;top:711.00px;font-size:32px;font-weight:400;color:#383946;line-height:43px;letter-spacing:-0.085px;-webkit-text-stroke:0.22px #383946;">Metrics</div>
<div class="t m" style="left:3037.29px;top:710.00px;font-size:32px;font-weight:400;color:#5b50f0;line-height:43px;letter-spacing:-0.292px;-webkit-text-stroke:0.95px #5b50f0;">chaos metrics</div>
<div class="t m" style="left:2813.91px;top:832.00px;font-size:32px;font-weight:400;color:#383946;line-height:43px;letter-spacing:-0.119px;-webkit-text-stroke:0.22px #383946;">Probe</div>
<div class="t m" style="left:2813.91px;top:872.00px;font-size:32px;font-weight:400;color:#383946;line-height:43px;letter-spacing:0.033px;-webkit-text-stroke:0.22px #383946;">Results</div>
<div class="t s" style="left:3097.89px;top:834.00px;font-size:36.5px;font-weight:700;color:#299b2c;line-height:47px;letter-spacing:-0.116px;">Passed</div>
<div class="t m" style="left:3023.14px;top:917.00px;font-size:31.5px;font-weight:400;color:#9293ab;line-height:41px;letter-spacing:-0.832px;-webkit-text-stroke:0.3px #9293ab;">OR</div>
<div class="t s" style="left:3097.89px;top:988.00px;font-size:36.5px;font-weight:700;color:#da291d;line-height:47px;letter-spacing:-0.153px;">Failed</div>
</div>
</body></html>
